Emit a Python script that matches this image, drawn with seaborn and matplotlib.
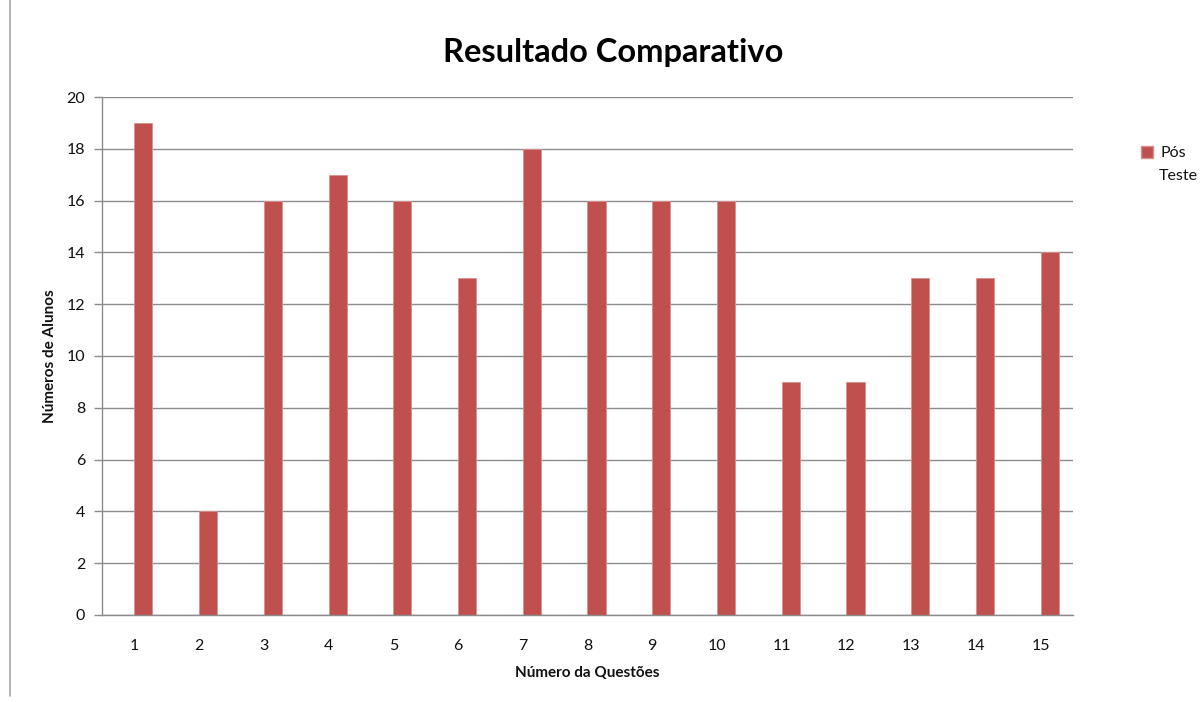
import matplotlib
matplotlib.use("Agg")
import matplotlib.pyplot as plt
import seaborn as sns
import pandas as pd
import numpy as np
from matplotlib.lines import Line2D

questoes = [str(i) for i in range(1, 16)]
pos_teste = [19, 4, 16, 17, 16, 13, 18, 16, 16, 16, 9, 9, 13, 13, 14]
series = ["Pré Teste", "Pós Teste"]
y_ticks = list(range(0, 21, 2))

sns.set_theme(style="white")
plt.rcParams["font.family"] = ["Lato", "DejaVu Sans"]

df = pd.DataFrame({"Questão": questoes, "Alunos": pos_teste, "Série": "Pós Teste"})

fig = plt.figure(figsize=(12.04, 7.02), dpi=100)
ax = fig.add_axes([0.0847, 0.124, 0.8065, 0.7378])

sns.barplot(data=df, x="Questão", y="Alunos", hue="Série", hue_order=series,
            order=questoes, palette={"Pré Teste": "#4F81BD", "Pós Teste": "#C0504D"},
            width=0.56, dodge=True, saturation=1, ax=ax, legend=False,
            edgecolor="#D9908E", linewidth=0.6)

ax.set_xlim(-0.5, 14.5)
ax.set_ylim(0, 20)
ax.set_yticks(y_ticks)
ax.yaxis.grid(True, color="#8C8C8C", linewidth=1.0)
ax.set_axisbelow(True)
for s in ["top", "right"]:
    ax.spines[s].set_visible(False)
for s in ["left", "bottom"]:
    ax.spines[s].set_color("#8C8C8C")
    ax.spines[s].set_linewidth(1.0)
ax.tick_params(axis="y", left=True, length=6, width=1, color="#8C8C8C",
               labelsize=11.5, labelcolor="#111111", pad=6)
ax.tick_params(axis="x", bottom=False, labelsize=11.5, labelcolor="#111111", pad=11)

ax.set_xlabel("Número da Questões", fontsize=11, fontweight="bold", labelpad=10,
              color="#111111")
ax.set_ylabel("Números de Alunos", fontsize=11, fontweight="bold", labelpad=7,
              color="#111111")
fig.suptitle("Resultado Comparativo", fontsize=23.5, fontweight="bold", x=0.509,
             y=0.925, va="center", color="#000000")

handle = plt.Rectangle((0, 0), 1, 1, facecolor="#C0504D", edgecolor="#D9908E")
fig.legend([handle], ["Pós"], loc="center left", bbox_to_anchor=(0.948, 0.782),
           frameon=False, fontsize=11.5, handlelength=0.75, handleheight=0.75,
           handletextpad=0.45, borderaxespad=0, borderpad=0, labelcolor="#111111")
fig.text(0.9625, 0.749, "Teste", fontsize=11.5, ha="left", va="center", color="#111111")

fig.add_artist(Line2D([0.0085, 0.0085], [0.008, 1.0], color="#A6A6A6", linewidth=1.2,
                      transform=fig.transFigure))

fig.savefig("out.png", dpi=100, facecolor="white")
